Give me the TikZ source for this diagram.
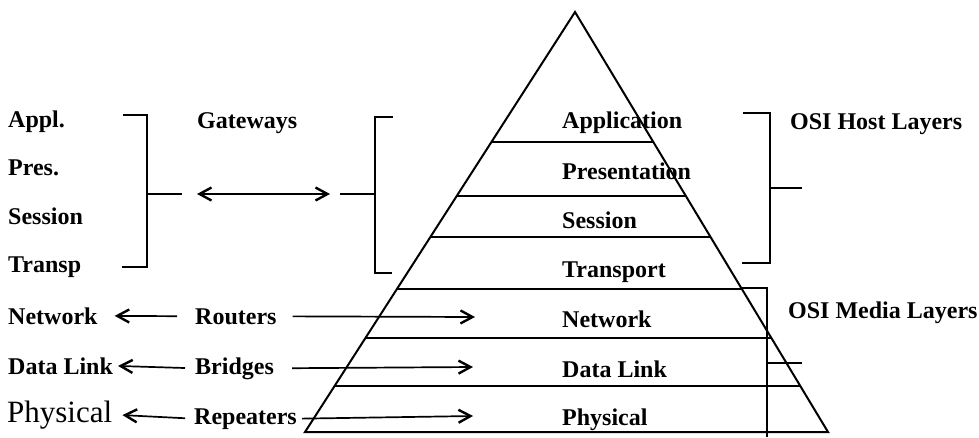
\documentclass[tikz,border=0pt]{standalone}
\usepackage{fontspec}
\setmainfont{Liberation Serif}
\usetikzlibrary{arrows.meta}
\begin{document}
\begin{tikzpicture}[x=1pt,y=-1pt,
  lbl/.style={font=\bfseries\fontsize{24}{28}\selectfont, inner sep=0pt, anchor=base west},
  biglbl/.style={font=\fontsize{31}{34}\selectfont, inner sep=0pt, anchor=base west},
  lay/.style={line width=1.5pt},
  brk/.style={line width=1.6pt},
  tri/.style={line width=2pt, line join=miter},
  barb/.tip={Straight Barb[length=12pt,width=13pt,line width=2.4pt]},
  arr/.style={line width=1.7pt, -barb},
  darr/.style={line width=1.7pt, barb-barb},
]
\useasboundingbox (0,0) rectangle (979,437);

% pyramid
\draw[tri] (575,12) -- (828,432) -- (305,432) -- cycle;
\draw[lay] (491.4,142) -- (653.3,142);
\draw[lay] (456.7,196) -- (685.8,196);
\draw[lay] (430.4,237) -- (710.5,237);
\draw[lay] (396.9,289) -- (741.9,289);
\draw[lay] (365.4,338) -- (771.4,338);
\draw[lay] (334.6,386) -- (800.3,386);

% layer names in the pyramid
\node[lbl] (tapp)  at (562,128) {Application};
\node[lbl] (tpres) at (562,179) {Presentation};
\node[lbl] (tsess) at (562,228) {Session};
\node[lbl] (ttran) at (562,277) {Transport};
\node[lbl] (tnet)  at (562,327) {Network};
\node[lbl] (tdl)   at (562,377) {Data Link};
\node[lbl] (tph)   at (562,425) {Physical};

% left column
\node[lbl] (appl)   at (8,127) {Appl.};
\node[lbl] (pres)   at (8,175) {Pres.};
\node[lbl] (sess)   at (8,224) {Session};
\node[lbl] (transp) at (8,272) {Transp};
\node[lbl] (netL)   at (8,324) {Network};
\node[lbl] (dlL)    at (8,374) {Data Link};
\node[biglbl] (phL) at (7,422) {Physical};

% middle column
\node[lbl] (gw) at (197,128) {Gateways};
\node[lbl] (rt) at (195,324) {Routers};
\node[lbl] (br) at (195,374) {Bridges};
\node[lbl] (rp) at (194,424) {Repeaters};

% right labels
\node[lbl] (host)  at (790,129) {OSI Host Layers};
\node[lbl] (media) at (788,318) {OSI Media Layers};

% left bracket (Appl..Transp)
\draw[brk] (123,115) -- (147,115) -- (147,267) -- (122,267);
\coordinate (gl) at (182,194);
\draw[brk] (147,194) -- (gl);
% bracket beside the pyramid
\draw[brk] (393,117) -- (375,117) -- (375,273) -- (392,273);
\coordinate (gr) at (340,194);
\draw[brk] (375,194) -- (gr);
% gateway arrow
\draw[darr, shorten <=15pt, shorten >=10pt] (gl) -- (gr);

% host layers bracket
\draw[brk] (743,113) -- (770,113) -- (770,263) -- (742,263);
\draw[brk] (770,188) -- (802,188);
% media layers bracket
\draw[brk] (742,288) -- (767,288) -- (767,437);
\draw[brk] (767,363) -- (802,363);

% device arrows to the left
\draw[arr, shorten <=18pt, shorten >=17pt] (rt.west) -- (netL.east);
\draw[arr, shorten <=10pt, shorten >=5pt] (br.west) -- (dlL.east);
\draw[arr, shorten <=9pt, shorten >=10pt] (rp.west) -- (phL.east);

% device arrows into the pyramid
\coordinate (rtip) at (475,317);
\coordinate (btip) at (473,367);
\coordinate (ptip) at (473,416);
\draw[arr, shorten <=16pt] (rt.east) -- (rtip);
\draw[arr, shorten <=18pt] (br.east) -- (btip);
\draw[arr, shorten <=5pt] (rp.east) -- (ptip);
\end{tikzpicture}
\end{document}
